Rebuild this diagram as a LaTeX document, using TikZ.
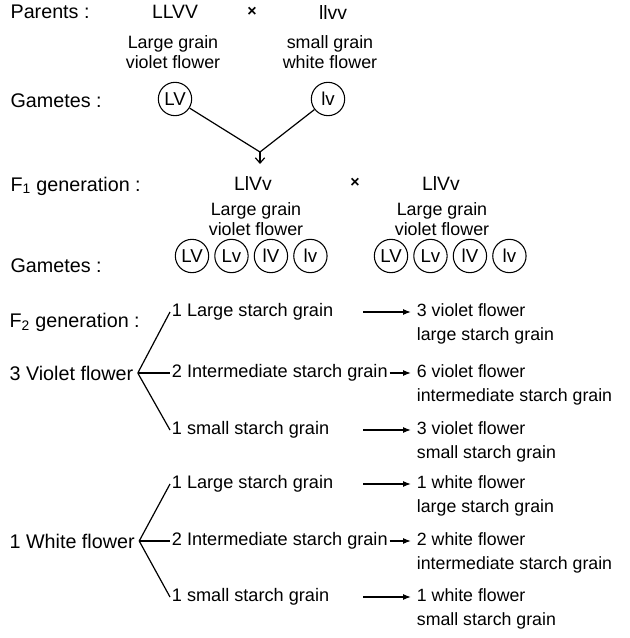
\documentclass[tikz,border=0pt]{standalone}
\usepackage{fontspec}
\setmainfont{Liberation Sans}
\usetikzlibrary{arrows.meta,positioning}

\begin{document}
\begin{tikzpicture}[
  x=0.75pt, y=-0.75pt,
  line width=0.9pt,
  >={Latex[length=6pt,width=4.5pt]},
  head/.style={anchor=west, inner sep=0pt, font=\fontsize{14.8}{17}\selectfont},
  geno/.style={inner sep=0pt, font=\fontsize{14.5}{17}\selectfont},
  desc/.style={align=center, inner sep=0pt, font=\fontsize{13.4}{14.5}\selectfont},
  cross/.style={inner sep=0pt, font=\fontsize{12}{12}\selectfont\bfseries},
  gam/.style={circle, draw, line width=0.8pt, minimum size=25pt, inner sep=0pt, font=\fontsize{14}{14}\selectfont},
  txt/.style={anchor=west, inner sep=1pt, text height=9.8pt, text depth=2.9pt, font=\fontsize{13.6}{14}\selectfont},
  res/.style={txt, font=\fontsize{13.3}{14}\selectfont},
  res2/.style={res, below=2pt of #1.south west, anchor=north west}
]
\useasboundingbox (0,0) rectangle (629,638);

% parents
\node[head] (par) at (10,12) {Parents :};
\node[geno] (p1) at (175,12) {LLVV};
\node[cross] (px) at (252,12) {×};
\node[geno] (p2) at (333,12) {llvv};
\node[desc] (p1d) at (173,52) {Large grain\\violet flower};
\node[desc] (p2d) at (330,52) {small grain\\white flower};

\node[head] (gm1) at (10,101) {Gametes :};
\node[gam] (g1) at (175,99) {LV};
\node[gam] (g2) at (328,99) {lv};
\coordinate (meet) at (260,152);
\coordinate (tip) at (260,164);
\draw (g1) -- (meet);
\draw (g2) -- (meet);
\draw[-{Straight Barb[length=4pt,width=7pt]}] (meet) -- (tip);

% F1 cross
\node[head] (f1) at (10,186) {F\textsubscript{1} generation :};
\node[geno] (h1) at (253,183) {LlVv};
\node[cross] (hx) at (355,183) {×};
\node[geno] (h2) at (441,183) {LlVv};
\node[desc] (h1d) at (256,219) {Large grain\\violet flower};
\node[desc] (h2d) at (442,219) {Large grain\\violet flower};

\node[head] (gm2) at (10,266) {Gametes :};
\node[gam] (a1) at (192,256) {LV};
\node[gam, right=3.8pt of a1] (a2) {Lv};
\node[gam, right=3.8pt of a2] (a3) {lV};
\node[gam, right=3.8pt of a3] (a4) {lv};
\node[gam] (b1) at (391,256) {LV};
\node[gam, right=3.8pt of b1] (b2) {Lv};
\node[gam, right=3.8pt of b2] (b3) {lV};
\node[gam, right=3.8pt of b3] (b4) {lv};

% F2: violet flowers
\node[head] (f2) at (9,322) {F\textsubscript{2} generation :};
\node[head] (vf) at (9,373) {3 Violet flower};
\coordinate[right=3pt of vf] (vj);
\node[txt] (vl) at (170,312) {1 Large starch grain};
\node[txt] (vi) at (170,373) {2 Intermediate starch grain};
\node[txt] (vs) at (170,430) {1 small starch grain};
\draw (vj) -- (vl.west);
\draw (vj) -- (vi.west);
\draw (vj) -- (vs.west);

\node[res] (vlr) at (415,312) {3 violet flower};
\node[res2=vlr] (vlr2) {large starch grain};
\node[res] (vir) at (415,373) {6 violet flower};
\node[res2=vir] (vir2) {intermediate starch grain};
\node[res] (vsr) at (415,430) {3 violet flower};
\node[res2=vsr] (vsr2) {small starch grain};
\coordinate (va1) at (363,312);
\coordinate (va3) at (363,430);
\draw[->, shorten >=3pt] (va1) -- (vlr);
\draw[->, shorten >=3pt] (vi) -- (vir);
\draw[->, shorten >=3pt] (va3) -- (vsr);

% F2: white flowers
\node[head] (wf) at (9,541) {1 White flower};
\coordinate[right=3pt of wf] (wj);
\node[txt] (wl) at (170,484) {1 Large starch grain};
\node[txt] (wi) at (170,541) {2 Intermediate starch grain};
\node[txt] (ws) at (170,597) {1 small starch grain};
\draw (wj) -- (wl.west);
\draw (wj) -- (wi.west);
\draw (wj) -- (ws.west);

\node[res] (wlr) at (415,484) {1 white flower};
\node[res2=wlr] (wlr2) {large starch grain};
\node[res] (wir) at (415,541) {2 white flower};
\node[res2=wir] (wir2) {intermediate starch grain};
\node[res] (wsr) at (415,597) {1 white flower};
\node[res2=wsr] (wsr2) {small starch grain};
\coordinate (wa1) at (363,484);
\coordinate (wa3) at (363,597);
\draw[->, shorten >=3pt] (wa1) -- (wlr);
\draw[->, shorten >=3pt] (wi) -- (wir);
\draw[->, shorten >=3pt] (wa3) -- (wsr);
\end{tikzpicture}
\end{document}
